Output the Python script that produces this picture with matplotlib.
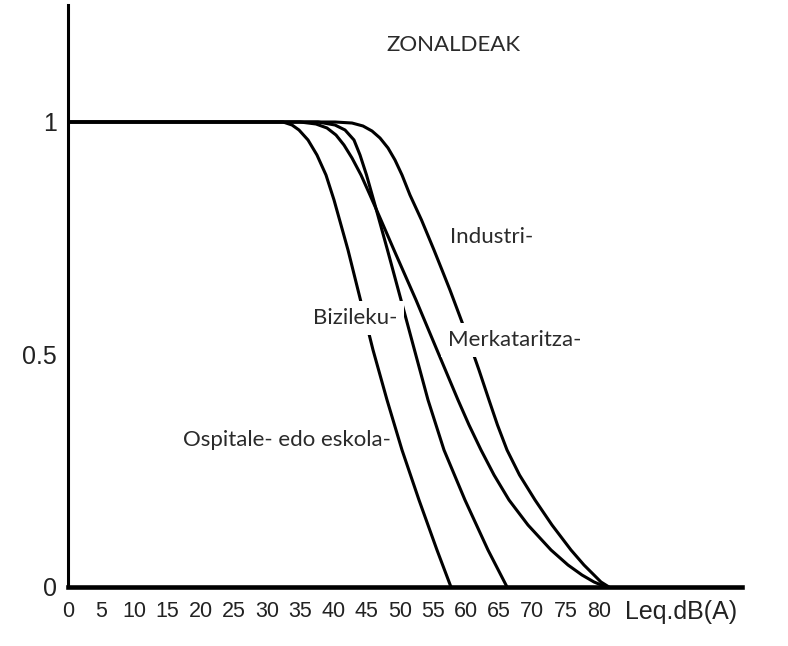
import matplotlib
matplotlib.use("Agg")
import matplotlib.pyplot as plt

# --- values (x = Leq dB(A), y = fraction 0..1) ---
ospitale_x = [0, 32.41, 33.77, 34.82, 36.18, 37.53, 38.89, 40.10, 42.21, 44.09,
              45.98, 48.09, 50.35, 52.91, 55.62, 57.73]
ospitale_y = [1, 1, 0.9935, 0.9828, 0.9613, 0.9290, 0.8860, 0.8323, 0.7247, 0.6172,
              0.5097, 0.4022, 0.2946, 0.1871, 0.0796, 0]

bizileku_x = [0, 37.69, 40.25, 41.76, 43.11, 44.02, 45.00, 46.28, 48.16, 50.20,
              52.23, 54.27, 56.68, 59.84, 63.31, 66.18]
bizileku_y = [1, 1, 0.9935, 0.9828, 0.9613, 0.9290, 0.8860, 0.8215, 0.7247, 0.6172,
              0.5097, 0.4022, 0.2946, 0.1871, 0.0796, 0]

merkat_x = [0, 34.97, 37.38, 39.04, 40.40, 41.60, 42.81, 44.17, 45.52, 47.18, 49.14,
            52.46, 55.62, 58.79, 60.45, 62.26, 64.22, 66.48, 69.34, 72.81, 75.37,
            77.48, 79.29, 81.10]
merkat_y = [1, 1, 0.9957, 0.9871, 0.9720, 0.9505, 0.9226, 0.8860, 0.8430, 0.7892, 0.7247,
            0.6172, 0.5097, 0.4022, 0.3484, 0.2946, 0.2409, 0.1871, 0.1333, 0.0796, 0.0473,
            0.0258, 0.0108, 0]

industri_x = [0, 40.25, 42.81, 44.47, 45.83, 47.03, 48.24, 49.29, 50.35, 51.55, 53.29,
              55.17, 56.38, 57.58, 58.71, 59.84, 61.95, 63.46, 64.74, 66.18, 68.06,
              70.40, 72.96, 75.82, 77.78, 79.29, 80.34, 81.55]
industri_y = [1, 1, 0.9978, 0.9914, 0.9806, 0.9656, 0.9441, 0.9183, 0.8860, 0.8430, 0.7892,
              0.7247, 0.6817, 0.6387, 0.5957, 0.5527, 0.4667, 0.4022, 0.3484, 0.2946, 0.2409,
              0.1871, 0.1333, 0.0796, 0.0473, 0.0258, 0.0108, 0]

x_ticks = list(range(0, 85, 5))
y_ticks = [0, 0.5, 1]
y_tick_labels = ["0", "0.5", "1"]

# label text and anchor (x, y) in data units
labels = [
    ("ZONALDEAK", 58.1, 1.166),
    ("Industri-", 57.6, 0.753),
    ("Merkataritza-", 57.3, 0.531),
    ("Bizileku-", 36.9, 0.578),
    ("Ospitale- edo eskola-", 17.3, 0.316),
]

axis_font = ["Liberation Sans", "DejaVu Sans"]
note_font = ["Lato", "DejaVu Sans"]

fig = plt.figure(figsize=(7.88, 6.46), dpi=100)
ax = fig.add_axes([68 / 788, 1 - 587 / 646, (742 - 68) / 788, (587 - 5) / 646])

for xs, ys in [(ospitale_x, ospitale_y), (bizileku_x, bizileku_y),
               (merkat_x, merkat_y), (industri_x, industri_y)]:
    ax.plot(xs, ys, color="black", lw=2.2, solid_joinstyle="round",
            solid_capstyle="round", zorder=3)

ax.set_xlim(0, 101.6)
ax.set_ylim(0, 1.2516)

for side in ["top", "right"]:
    ax.spines[side].set_visible(False)
ax.spines["left"].set_linewidth(2.2)
ax.spines["bottom"].set_linewidth(3.3)

ax.set_xticks(x_ticks)
ax.set_xticklabels([str(t) for t in x_ticks], family=axis_font, fontsize=15.5, color="#222222")
ax.set_yticks(y_ticks)
ax.set_yticklabels(y_tick_labels, family=axis_font, fontsize=18, color="#222222")
ax.tick_params(axis="both", length=0)
ax.tick_params(axis="x", pad=10)
ax.tick_params(axis="y", pad=8)

ax.text(84.0, -0.054, "Leq.dB(A)", family=axis_font, fontsize=18, color="#222222",
        ha="left", va="center", clip_on=False)

for txt, lx, ly in labels:
    kw = dict(family=note_font, fontsize=16, color="#2a2a2a", va="center", zorder=5)
    if txt == "ZONALDEAK":
        ax.text(lx, ly, txt, ha="center", **kw)
    elif txt in ("Bizileku-", "Merkataritza-"):
        ax.text(lx, ly, txt, ha="left",
                bbox=dict(facecolor="white", edgecolor="none", pad=5), **kw)
    else:
        ax.text(lx, ly, txt, ha="left", **kw)

fig.savefig("out.png", dpi=100)
